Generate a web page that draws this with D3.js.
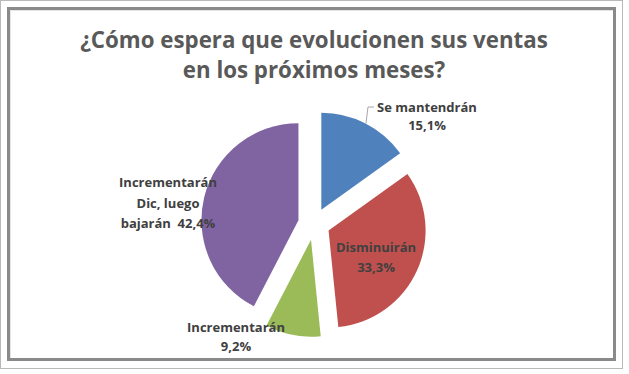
<!DOCTYPE html>
<meta charset="utf-8">
<script src="https://d3js.org/d3.v7.min.js"></script>
<style>
  body { margin: 0; background: #fff; }
  text { font-family: "Open Sans", sans-serif; font-weight: bold; }
</style>
<div id="my_dataviz"></div>
<script>
  // data
  var categories = ["Se mantendrán", "Disminuirán", "Incrementarán", "Incrementarán Dic, luego bajarán"];
  var values = [15.1, 33.3, 9.2, 42.4];
  var colors = ["#4f81bd", "#c0504d", "#9bbb59", "#8064a2"];
  var titleLines = ["¿Cómo espera que evolucionen sus ventas", "en los próximos meses?"];

  var width = 629, height = 374;
  var svg = d3.select("#my_dataviz")
    .append("svg")
      .attr("width", width)
      .attr("height", height);

  // frame
  svg.append("rect")
    .attr("x", 0.5).attr("y", 0.5).attr("width", 622).attr("height", 368)
    .attr("fill", "none").attr("stroke", "#b8b8b8").attr("stroke-width", 1);
  svg.append("rect")
    .attr("x", 10.5).attr("y", 10.5).attr("width", 604).attr("height", 349)
    .attr("fill", "none").attr("stroke", "#e4e4e4").attr("stroke-width", 1);
  svg.append("rect")
    .attr("x", 8.5).attr("y", 8.5).attr("width", 606).attr("height", 351)
    .attr("fill", "none").attr("stroke", "#8a8a8a").attr("stroke-width", 3);

  // title
  svg.selectAll(".title")
    .data(titleLines)
    .enter()
    .append("text")
      .attr("class", "title")
      .attr("x", 314)
      .attr("y", function(d, i) { return 48 + i * 30; })
      .attr("text-anchor", "middle")
      .attr("fill", "#595959")
      .style("font-size", "22.3px")
      .text(function(d) { return d; });

  // pie
  var cx = 314, cy = 224, r = 97, explode = 16;
  var pie = d3.pie().sort(null).value(function(d) { return d; });
  var arcs = pie(values);
  var arc = d3.arc().innerRadius(0).outerRadius(r);

  var g = svg.append("g").attr("transform", "translate(" + cx + "," + cy + ")");
  g.selectAll("path")
    .data(arcs)
    .enter()
    .append("path")
      .attr("d", arc)
      .attr("fill", function(d, i) { return colors[i]; })
      .attr("transform", function(d) {
        var a = (d.startAngle + d.endAngle) / 2;
        return "translate(" + (explode * Math.sin(a)) + "," + (-explode * Math.cos(a)) + ")";
      });

  // labels
  var fmt = function(v) { return v.toFixed(1).replace(".", ",") + "%"; };
  var labels = [
    {x: 427, y: 112, dy: 18, lines: [categories[0], fmt(values[0])]},
    {x: 376, y: 252, dy: 20, lines: [categories[1], fmt(values[1])]},
    {x: 236, y: 332, dy: 19, lines: [categories[2], fmt(values[2])]},
    {x: 168, y: 187, dy: 20.5, lines: ["Incrementarán", "Dic, luego", "bajarán  " + fmt(values[3])]}
  ];
  labels.forEach(function(l) {
    var t = svg.append("text")
      .attr("x", l.x).attr("y", l.y)
      .attr("text-anchor", "middle")
      .attr("fill", "#404040")
      .style("font-size", "13px")
      .style("white-space", "pre");
    l.lines.forEach(function(s, i) {
      t.append("tspan").attr("x", l.x).attr("dy", i ? l.dy : 0).text(s);
    });
  });

  // leader line for the blue slice
  svg.append("path")
    .attr("d", "M366,123 L368,107 L374,107")
    .attr("fill", "none")
    .attr("stroke", "#a6a6a6")
    .attr("stroke-width", 1);
</script>
